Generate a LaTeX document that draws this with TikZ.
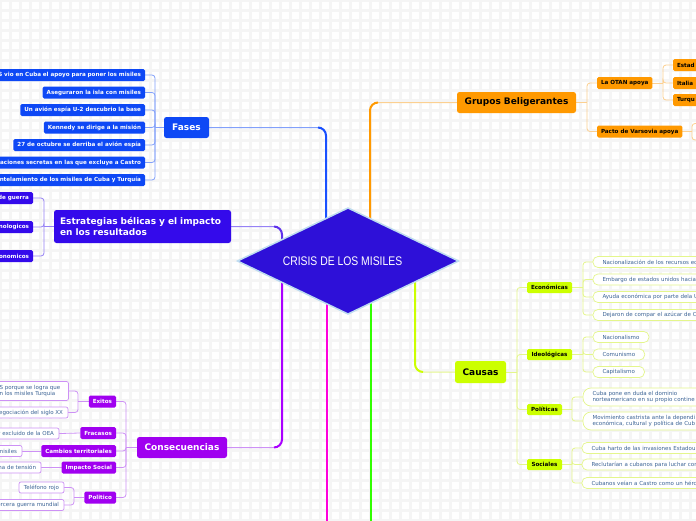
\documentclass[tikz,border=0pt]{standalone}
\usepackage{fontspec}
\setmainfont{DejaVu Sans}
\newfontfamily\diafont[FakeStretch=0.83]{Liberation Sans}
\usetikzlibrary{shapes.geometric,calc}
\pgfdeclarelayer{gridlayer}
\pgfdeclarelayer{edges}
\pgfsetlayers{gridlayer,edges,main}
\definecolor{fblue}{RGB}{14,72,245}
\definecolor{fbluel}{RGB}{130,160,250}
\definecolor{fblued}{RGB}{25,80,255}
\definecolor{sind}{RGB}{52,10,235}
\definecolor{sindl}{RGB}{150,130,245}
\definecolor{sindd}{RGB}{95,50,235}
\definecolor{cpur}{RGB}{160,0,240}
\definecolor{cpurl}{RGB}{205,145,245}
\definecolor{cpurd}{RGB}{170,0,255}
\definecolor{orng}{RGB}{255,153,0}
\definecolor{orngl}{RGB}{252,208,145}
\definecolor{limec}{RGB}{204,255,0}
\definecolor{limel}{RGB}{228,246,140}
\definecolor{magc}{RGB}{255,0,220}
\definecolor{grnc}{RGB}{50,255,0}
\definecolor{leaftext}{RGB}{60,100,150}
\definecolor{diafill}{RGB}{46,16,216}
\definecolor{diaborder}{RGB}{190,220,240}
\definecolor{gridc}{RGB}{245,245,245}
\tikzset{
  every node/.style={inner sep=0pt, outer sep=0pt},
  mainbox/.style={rounded corners=2.5pt, font=\bfseries\fontsize{9}{11}\selectfont, minimum height=21pt, inner xsep=6pt},
  kid/.style={rounded corners=1.5pt, font=\bfseries\fontsize{5.6}{6.5}\selectfont, minimum height=12pt, inner xsep=4pt},
  fk/.style={kid, fill=fblue, text=white},
  sk/.style={kid, fill=sind, text=white},
  ck/.style={kid, fill=cpur, text=white},
  ok/.style={kid, fill=orng, text=black},
  lk/.style={kid, fill=limec, text=black, minimum height=11pt},
  leaf/.style={fill=white, font=\fontsize{5.5}{6.6}\selectfont, text=leaftext, minimum height=11pt, line width=0.7pt},
  cleaf/.style={leaf, draw=cpurl, rounded corners=2pt, inner xsep=5pt},
  lleaf/.style={leaf, draw=limel, rounded corners=5pt, inner xsep=9.5pt},
  cutl/.style={text width=#1, align=right},
  cutr/.style={text width=#1, align=left},
  fline/.style={draw=fbluel, line width=0.8pt},
  sline/.style={draw=sindl, line width=0.8pt},
  cline/.style={draw=cpurl, line width=0.8pt},
  oline/.style={draw=orngl, line width=0.8pt},
  lline/.style={draw=limel, line width=0.8pt},
  thickbranch/.style={line width=2pt, rounded corners=8pt},
  lightbranch/.style={line width=1pt, rounded corners=8pt}
}
\begin{document}
\begin{tikzpicture}[x=1pt,y=-1pt]
\useasboundingbox (0,0) rectangle (696,520);
\begin{pgfonlayer}{gridlayer}
  \fill[white] (0,0) rectangle (696,520);
  \foreach \x in {0,10,...,700} \draw[gridc, line width=3pt] (\x,0) -- (\x,520);
  \foreach \y in {0,10,...,520} \draw[gridc, line width=3pt] (0,\y) -- (696,\y);
\end{pgfonlayer}

% centre
\node[diamond, aspect=2.08, fill=diafill, draw=diaborder, line width=1.5pt, minimum width=221pt, minimum height=106pt, text=white, font=\diafont\fontsize{12.5}{14}\selectfont] (dia) at (348,261) {\hspace*{-11pt}CRISIS DE LOS MISILES};

% ---------- Fases
\node[mainbox, fill=fblue, text=white, minimum width=45pt] (fases) at (186.5,127.5) {Fases};
\node[fk, anchor=east, cutl=200pt] (f1) at (145,75) {S vio en Cuba el apoyo para poner los misiles};
\node[fk, anchor=east] (f2) at (145,92.5) {Aseguraron la isla con misiles};
\node[fk, anchor=east] (f3) at (145,110) {Un avión espía U-2 descubrio la base};
\node[fk, anchor=east] (f4) at (145,127.5) {Kennedy se dirige a la misión};
\node[fk, anchor=east] (f5) at (145,145) {27 de octubre se derriba el avión espía};
\node[fk, anchor=east, cutl=200pt] (f6) at (145,162.5) {ciaciones secretas en las que excluye a Castro};
\node[fk, anchor=east, cutl=200pt] (f7) at (145,180) {antelamiento de los misiles de Cuba y Turquía};

% ---------- Estrategias
\node[mainbox, fill=sind, text=white, minimum height=33pt, text width=165pt, align=left] (strat) at (142.5,226.5) {Estrategias bélicas y el impacto\\en los resultados};
\node[sk, anchor=east, cutl=80pt] (s1) at (33,198) {de guerra};
\node[sk, anchor=east, cutl=80pt] (s2) at (33,227) {nologicos};
\node[sk, anchor=east, cutl=80pt] (s3) at (33,256) {onomicos};

% ---------- Consecuencias
\node[mainbox, fill=cpur, text=white, minimum width=90pt] (conse) at (182,447.5) {Consecuencias};
\node[ck, anchor=east] (c1) at (116,401.5) {Exitos};
\node[ck, anchor=east] (c2) at (116,433) {Fracasos};
\node[ck, anchor=east] (c3) at (116,451) {Cambios territoriales};
\node[ck, anchor=east] (c4) at (116,467.5) {Impacto Social};
\node[ck, anchor=east] (c5) at (116,497.5) {Politico};
\node[cleaf, anchor=west, minimum height=19pt, text width=64pt, align=left] (e1) at (-5.5,391) {S porque se logra que\\n los misiles Turquia};
\node[cleaf, anchor=east, cutl=100pt] (e2) at (68,412.5) {egociación del siglo XX};
\node[cleaf, anchor=east, cutl=100pt] (r1) at (59,433.5) {r excluido de la OEA};
\node[cleaf, anchor=east, cutl=60pt] (m1) at (22,451) {misiles};
\node[cleaf, anchor=east, cutl=80pt] (t1) at (41,467.5) {na de tensión};
\node[cleaf, anchor=east] (p1) at (64,487.5) {Teléfono rojo};
\node[cleaf, anchor=east, cutl=100pt] (p2) at (64,505) {ercera guerra mundial};

% ---------- Grupos
\node[mainbox, fill=orng, text=black, minimum width=119pt] (grupos) at (516.5,102.5) {Grupos Beligerantes};
\node[ok, anchor=west, minimum width=55pt] (g1) at (597,83) {La OTAN apoya};
\node[ok, anchor=west, minimum width=84pt] (g2) at (597,131.5) {Pacto de Varsovia apoya};
\node[ok, anchor=west, cutr=60pt] (o1) at (673,65) {Estad};
\node[ok, anchor=west, cutr=60pt] (o2) at (673,83) {Italia};
\node[ok, anchor=west, cutr=60pt] (o3) at (673,100) {Turqu};

% ---------- Causas
\node[mainbox, fill=limec, text=black, minimum width=51pt, minimum height=22pt] (causas) at (480.5,372) {Causas};
\node[lk, anchor=west, minimum width=45pt] (k1) at (527,287.5) {Económicas};
\node[lk, anchor=west, minimum width=45pt] (k2) at (527,354.5) {Ideológicas};
\node[lk, anchor=west, minimum width=35pt] (k3) at (527,409.5) {Políticas};
\node[lk, anchor=west, minimum width=35pt] (k4) at (527,464.5) {Sociales};
\node[lleaf, anchor=west, cutr=150pt] (a1) at (593,262) {Nacionalización de los recursos ec};
\node[lleaf, anchor=west, cutr=150pt] (a2) at (593,279.5) {Embargo de estados unidos hacia};
\node[lleaf, anchor=west, cutr=150pt] (a3) at (593,297) {Ayuda económica por parte dela U};
\node[lleaf, anchor=west, cutr=150pt] (a4) at (593,315) {Dejaron de compar el azúcar de C};
\node[lleaf, anchor=west] (b1) at (593,337) {Nacionalismo};
\node[lleaf, anchor=west] (b2) at (593,354.5) {Comunismo};
\node[lleaf, anchor=west] (b3) at (593,372) {Capitalismo};
\node[lleaf, anchor=west, cutr=150pt, minimum height=18pt, rounded corners=8pt] (q1) at (583,397) {Cuba pone en duda el dominio\\norteamericano en su propio contine};
\node[lleaf, anchor=west, cutr=150pt, minimum height=18pt, rounded corners=8pt] (q2) at (583,421) {Movimiento castrista ante la dependi\\económica, cultural y política de Cub};
\node[lleaf, anchor=west, cutr=150pt] (h1) at (582,448) {Cuba harto de las invasiones Estadou};
\node[lleaf, anchor=west, cutr=150pt] (h2) at (582,464.5) {Reclutarían a cubanos para luchar con};
\node[lleaf, anchor=west, cutr=150pt] (h3) at (582,483) {Cubanos veían a Castro como un hérc};

% coordinates
\coordinate (bF) at (326,261);
\coordinate (fC) at (318,127.5);
\coordinate (bS) at (282,261);
\coordinate (sC) at (274,226.5);
\coordinate (cC) at (274,447.5);
\coordinate (bO) at (370,261);
\coordinate (oC) at (378,102.5);
\coordinate (bL) at (415,261);
\coordinate (lC) at (423,372);
\coordinate (bM) at (327,261);
\coordinate (mEnd) at (327,530);
\coordinate (bG) at (371,261);
\coordinate (gEnd) at (371,530);
\coordinate (fsp) at (155,127.5);
\coordinate (ssp) at (44,226.5);
\coordinate (csp) at (126,447.5);
\coordinate (esp) at (78,401.5);
\coordinate (psp) at (74,497.5);
\coordinate (gsp) at (587,102.5);
\coordinate (osp) at (663,83);
\coordinate (pb) at (692,131.5);
\coordinate (pbu) at (704,123.5);
\coordinate (pbd) at (704,140);
\coordinate (lsp) at (517,372);
\coordinate (asp) at (583,287.5);
\coordinate (bsp) at (583,354.5);
\coordinate (qsp) at (572,409.5);
\coordinate (hsp) at (572,464.5);

\begin{pgfonlayer}{edges}
  % main branches
  \draw[fbluel, lightbranch] (fases.east) -| (bF);
  \draw[fblued, thickbranch] (fC) -| (bF);
  \draw[sindl, lightbranch] (strat.east) -| (bS);
  \draw[sindd, thickbranch] (sC) -| (bS);
  \draw[cpurl, lightbranch] (conse.east) -| (bS);
  \draw[cpurd, thickbranch] (cC) -| (bS);
  \draw[orngl, lightbranch] (grupos.west) -| (bO);
  \draw[orng, thickbranch] (oC) -| (bO);
  \draw[limel, lightbranch] (causas.west) -| (bL);
  \draw[limec, thickbranch] (lC) -| (bL);
  \draw[magc, line width=2pt] (bM) -- (mEnd);
  \draw[grnc, line width=2pt] (bG) -- (gEnd);
  % Fases
  \draw[fline] (fases.west) -- (fsp);
  \foreach \n in {f1,f2,f3,f4,f5,f6,f7} \draw[fline, rounded corners=3pt] (fsp) |- (\n.east);
  % Estrategias
  \draw[sline] (strat.west) -- (ssp);
  \foreach \n in {s1,s2,s3} \draw[sline, rounded corners=3pt] (ssp) |- (\n.east);
  % Consecuencias
  \draw[cline] (conse.west) -- (csp);
  \foreach \n in {c1,c2,c3,c4,c5} \draw[cline, rounded corners=3pt] (csp) |- (\n.east);
  \draw[cline] (c1.west) -- (esp);
  \foreach \n in {e1,e2} \draw[cline, rounded corners=3pt] (esp) |- (\n.east);
  \draw[cline] (c2.west) -- (r1.east);
  \draw[cline] (c3.west) -- (m1.east);
  \draw[cline] (c4.west) -- (t1.east);
  \draw[cline] (c5.west) -- (psp);
  \foreach \n in {p1,p2} \draw[cline, rounded corners=3pt] (psp) |- (\n.east);
  % Grupos
  \draw[oline] (grupos.east) -- (gsp);
  \foreach \n in {g1,g2} \draw[oline, rounded corners=3pt] (gsp) |- (\n.west);
  \draw[oline] (g1.east) -- (osp);
  \foreach \n in {o1,o2,o3} \draw[oline, rounded corners=3pt] (osp) |- (\n.west);
  \draw[oline] (g2.east) -- (pb);
  \draw[oline, rounded corners=3pt] (pb) |- (pbu);
  \draw[oline, rounded corners=3pt] (pb) |- (pbd);
  % Causas
  \draw[lline] (causas.east) -- (lsp);
  \foreach \n in {k1,k2,k3,k4} \draw[lline, rounded corners=3pt] (lsp) |- (\n.west);
  \draw[lline] (k1.east) -- (asp);
  \foreach \n in {a1,a2,a3,a4} \draw[lline, rounded corners=3pt] (asp) |- (\n.west);
  \draw[lline] (k2.east) -- (bsp);
  \foreach \n in {b1,b2,b3} \draw[lline, rounded corners=3pt] (bsp) |- (\n.west);
  \draw[lline] (k3.east) -- (qsp);
  \foreach \n in {q1,q2} \draw[lline, rounded corners=3pt] (qsp) |- (\n.west);
  \draw[lline] (k4.east) -- (hsp);
  \foreach \n in {h1,h2,h3} \draw[lline, rounded corners=3pt] (hsp) |- (\n.west);
\end{pgfonlayer}
\end{tikzpicture}
\end{document}
